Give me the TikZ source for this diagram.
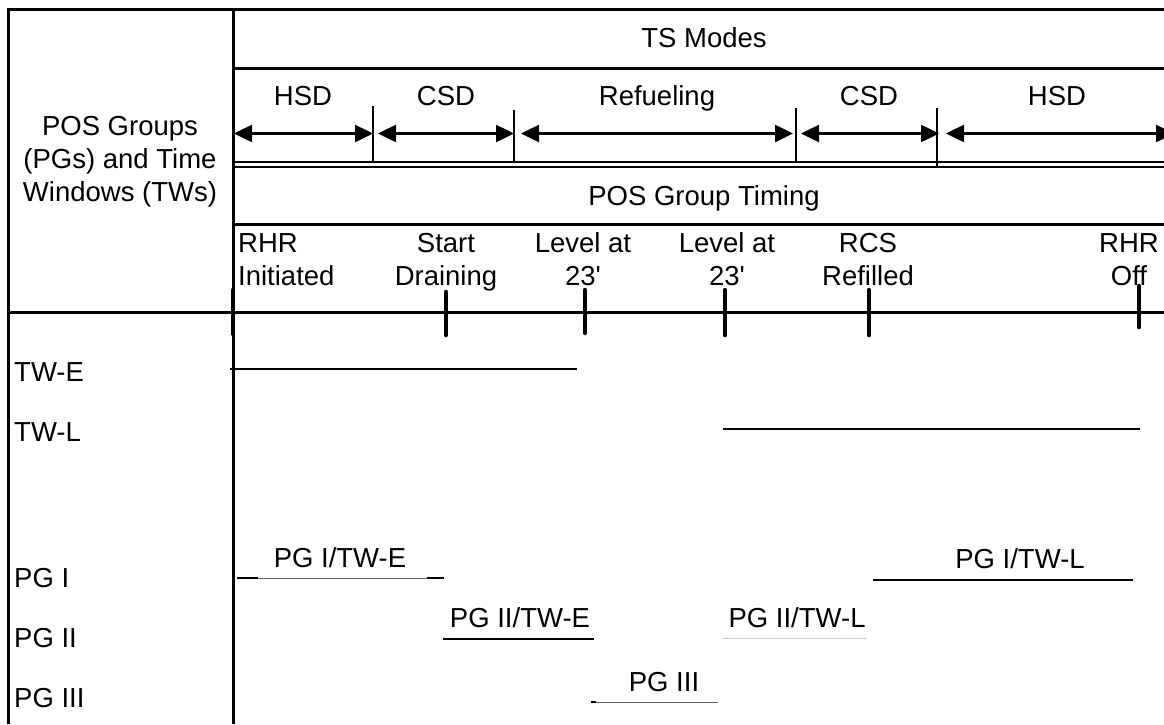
\documentclass[tikz,border=0pt]{standalone}
\usepackage{fontspec}
\setmainfont{Liberation Sans}[Ligatures=TeXOff]
\usetikzlibrary{arrows.meta}
\begin{document}
\begin{tikzpicture}[x=1pt,y=-1pt,
  frame/.style={line width=3pt},
  dbl/.style={line width=2.5pt},
  modediv/.style={line width=1.5pt},
  ticker/.style={line width=4.5pt,line cap=round},
  spanarrow/.style={line width=2.5pt,{Triangle[length=18pt,width=17pt]}-{Triangle[length=18pt,width=17pt]}},
  twline/.style={line width=1.6pt},
  thinline/.style={line width=1pt,black!60},
  lbl/.style={font=\fontsize{27.5}{33}\selectfont,inner sep=0pt,anchor=base},
  lft/.style={lbl,anchor=base west}
]
\useasboundingbox (0,0) rectangle (1164,724);
% frame
\coordinate (TL) at (8,9); \coordinate (TR) at (1164,9); \coordinate (BL) at (8,724);
\coordinate (DT) at (233,9); \coordinate (DB) at (233,724);
\coordinate (m1L) at (233,68); \coordinate (m1R) at (1164,68);
\coordinate (d1L) at (233,162); \coordinate (d1R) at (1164,162);
\coordinate (d2L) at (233,167); \coordinate (d2R) at (1164,167);
\coordinate (g1L) at (233,224); \coordinate (g1R) at (1164,224);
\coordinate (hL) at (8,312); \coordinate (hR) at (1164,312);
\draw[frame] (BL) -- (TL) -- (TR);
\draw[frame] (DT) -- (DB);
\draw[frame] (m1L) -- (m1R);
\draw[dbl] (d1L) -- (d1R);
\draw[dbl] (d2L) -- (d2R);
\draw[frame] (g1L) -- (g1R);
\draw[frame] (hL) -- (hR);
% mode dividers
\foreach \n/\x/\ya/\yb in {1/373/106/162, 2/514/110/162, 3/796/108/162, 4/937/108/167}{
  \coordinate (v\n a) at (\x,\ya); \coordinate (v\n b) at (\x,\yb);
  \draw[modediv] (v\n a) -- (v\n b);
}
% mode arrows
\foreach \n/\xa/\xb in {1/234/373, 2/378/514, 3/521/793, 4/801/939, 5/946/1174}{
  \coordinate (a\n s) at (\xa,133.5); \coordinate (a\n e) at (\xb,133.5);
  \draw[spanarrow] (a\n s) -- (a\n e);
}
% header texts
\node[lbl] (ts) at (704,47) {TS Modes};
\node[lbl] (hsd1) at (303,105) {HSD};
\node[lbl] (csd1) at (446,105) {CSD};
\node[lbl] (ref) at (657,105) {Refueling};
\node[lbl] (csd2) at (869,105) {CSD};
\node[lbl] (hsd2) at (1057,105) {HSD};
\node[lbl] (pgt) at (704,205) {POS Group Timing};
\node[lbl,align=center] (pgh) at (120,201) {POS Groups\\(PGs) and Time\\Windows (TWs)};
% events
\node[lbl,align=left,anchor=base west] (e1) at (238,285) {RHR\\Initiated};
\node[lbl,align=center] (e2) at (446,285) {Start\\Draining};
\node[lbl,align=center] (e3) at (583,285) {Level at\\23'};
\node[lbl,align=center] (e4) at (727,285) {Level at\\23'};
\node[lbl,align=center] (e5) at (868,285) {RCS\\Refilled};
\node[lbl,align=center] (e6) at (1129,285) {RHR\\Off};
% ticks
\foreach \n/\x/\ya/\yb in {1/233/290/334, 2/446/292/335, 3/585/290/333, 4/725/290/335, 5/869/290/335, 6/1139/286/327}{
  \coordinate (t\n a) at (\x,\ya); \coordinate (t\n b) at (\x,\yb);
  \draw[ticker] (t\n a) -- (t\n b);
}
% row labels
\node[lft] (twe) at (14,381) {TW-E};
\node[lft] (twl) at (14,441) {TW-L};
\node[lft] (pg1) at (14,587) {PG I};
\node[lft] (pg2) at (14,647) {PG II};
\node[lft] (pg3) at (14,707) {PG III};
% time windows
\coordinate (tweS) at (230,369); \coordinate (tweE) at (577,369);
\draw[twline] (tweS) -- (tweE);
\coordinate (twlS) at (723,429); \coordinate (twlE) at (1140,429);
\draw[twline] (twlS) -- (twlE);
% PG I / TW-E
\node[lbl] (p1e) at (340,567) {PG I/TW-E};
\coordinate (p1eA) at (237,578); \coordinate (p1eB) at (258,578);
\coordinate (p1eC) at (427,578); \coordinate (p1eD) at (444,578);
\draw[twline] (p1eA) -- (p1eB);
\draw[thinline] (p1eB) -- (p1eC);
\draw[twline] (p1eC) -- (p1eD);
% PG I / TW-L
\node[lbl] (p1l) at (1020,568) {PG I/TW-L};
\coordinate (p1lA) at (873,580); \coordinate (p1lB) at (1133,580);
\draw[twline] (p1lA) -- (p1lB);
% PG II / TW-E
\node[lbl] (p2e) at (520,627) {PG II/TW-E};
\coordinate (p2eA) at (443,639); \coordinate (p2eB) at (594,639);
\draw[line width=2pt] (p2eA) -- (p2eB);
% PG II / TW-L
\node[lbl] (p2l) at (797,627) {PG II/TW-L};
\coordinate (p2lA) at (723,638); \coordinate (p2lB) at (867,638);
\draw[line width=1pt,black!20] (p2lA) -- (p2lB);
% PG III
\node[lbl] (p3) at (664,691) {PG III};
\coordinate (p3A) at (591,702); \coordinate (p3B) at (596,702); \coordinate (p3C) at (718,702);
\draw[thinline] (p3B) -- (p3C);
\draw[line width=1.5pt] (p3A) -- (p3B);
\end{tikzpicture}
\end{document}
